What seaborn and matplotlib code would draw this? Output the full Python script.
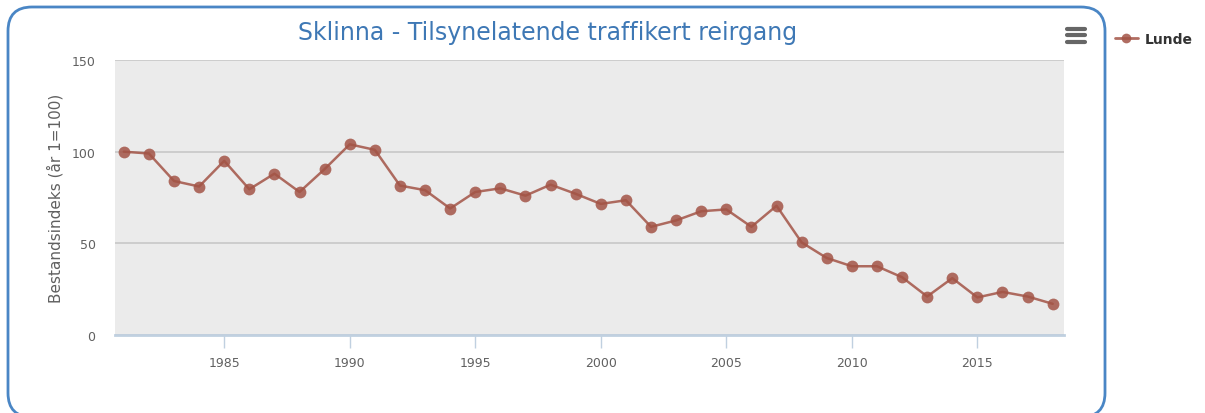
import matplotlib.pyplot as plt
from matplotlib.patches import FancyBboxPatch
from matplotlib.lines import Line2D
from matplotlib.transforms import IdentityTransform
import pandas as pd
import seaborn as sns

years = list(range(1981, 2019))
lunde = [100, 99, 84, 81, 95, 79.5, 88, 78, 90.5, 104, 101, 81.5, 79, 69,
         78, 80, 76, 82, 77, 71.5, 73.5, 59, 62.5, 67.5, 68.5, 59, 70.5,
         50.5, 42, 37.5, 37.5, 31.5, 21, 31, 20.5, 23.5, 21, 17]
x_ticks = [1985, 1990, 1995, 2000, 2005, 2010, 2015]
y_ticks = [0, 50, 100, 150]

sns.set_style('white', {'axes.facecolor': '#EBEBEB'})
plt.rcParams['font.family'] = ['DejaVu Sans']

line_color = '#A35446'
data = pd.DataFrame({'year': years, 'value': lunde})

W, H = 1205, 414
fig = plt.figure(figsize=(W / 100, H / 100), dpi=100)
ax = fig.add_axes([115 / W, 1 - 336 / H, (1064 - 115) / W, (336 - 61) / H])

sns.lineplot(data=data, x='year', y='value', ax=ax, color=line_color, linewidth=1.8,
             marker='o', markersize=8.5, markeredgewidth=0, alpha=0.85)

ax.set_xlim(1980.65, 2018.45)
ax.set_ylim(0, 150)
ax.set_xticks(x_ticks)
ax.set_yticks(y_ticks)
ax.yaxis.grid(True, color='#C8C8C8', linewidth=1.2)
ax.set_axisbelow(True)
for side in ['top', 'right', 'left']:
    ax.spines[side].set_visible(False)
ax.spines['bottom'].set_color('#C0D0E0')
ax.spines['bottom'].set_linewidth(2)
ax.tick_params(axis='x', length=9, width=1, color='#C0D0E0', labelsize=9,
               labelcolor='#606060', pad=6, bottom=True)
ax.tick_params(axis='y', length=0, labelsize=9, labelcolor='#606060', pad=14)
ax.set_xlabel(None)
ax.set_ylabel('Bestandsindeks (år 1=100)', fontsize=11, color='#606060', labelpad=6)

fig.text(548 / W, 1 - 33 / H, 'Sklinna - Tilsynelatende traffikert reirgang',
         ha='center', va='center', fontsize=17, color='#3E78B5')

# rounded frame around the chart (pixel coordinates, bottom edge just off the image)
frame = FancyBboxPatch((8, -4), 1097, 410, boxstyle='round,pad=0,rounding_size=24',
                       transform=IdentityTransform(), fill=False,
                       edgecolor='#4A86C5', linewidth=2)
fig.patches.append(frame)

# menu icon
for dy in (29.5, 36, 42.5):
    fig.lines.append(Line2D([1067 / W, 1085 / W], [1 - dy / H, 1 - dy / H],
                            transform=fig.transFigure, color='#666666', linewidth=3,
                            solid_capstyle='round'))

handle = Line2D([], [], color=line_color, linewidth=2, marker='o', markersize=7,
                markeredgewidth=0, alpha=0.85)
fig.legend([handle], ['Lunde'], loc='center left', bbox_to_anchor=(1102 / W, 1 - 40 / H),
           frameon=False, prop={'weight': 'bold', 'size': 10}, handlelength=1.7,
           handletextpad=0.5, labelcolor='#333333')

fig.savefig('out.png', dpi=100)
